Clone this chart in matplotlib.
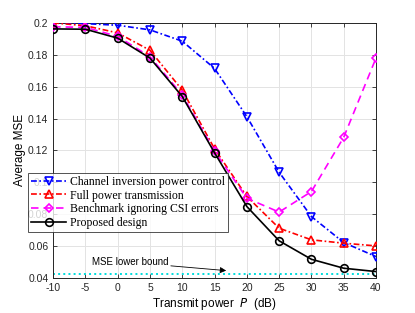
import matplotlib
matplotlib.use('Agg')
import matplotlib.pyplot as plt
from matplotlib.ticker import FixedLocator

power_db = [-10, -5, 0, 5, 10, 15, 20, 25, 30, 35, 40]
mse_inversion = [0.2000, 0.1995, 0.1985, 0.1956, 0.1885, 0.1714, 0.1412, 0.1063, 0.0785, 0.0622, 0.0534]
mse_full = [0.2000, 0.1982, 0.1937, 0.1828, 0.1578, 0.1210, 0.0911, 0.0712, 0.0639, 0.0618, 0.0601]
mse_benchmark = [0.1975, 0.1972, 0.1915, 0.1788, 0.1548, 0.1195, 0.0900, 0.0813, 0.0942, 0.1282, 0.1779]
mse_proposed = [0.1962, 0.1960, 0.1904, 0.1779, 0.1538, 0.1185, 0.0848, 0.0633, 0.0517, 0.0461, 0.0440]
lower_bound = 0.0426

yticks = [0.04, 0.06, 0.08, 0.10, 0.12, 0.14, 0.16, 0.18, 0.20]
ytick_labels = ['0.04', '0.06', '0.08', '0.1', '0.12', '0.14', '0.16', '0.18', '0.2']

plt.rcParams['font.family'] = ['Liberation Sans', 'DejaVu Sans']

fig = plt.figure(figsize=(4.15, 3.13), dpi=100)
ax = fig.add_axes([0.128, 0.112, 0.778, 0.815])

dashdot = (3.5, 1.5, 1, 1.5)
ax.plot(power_db, mse_inversion, color='#0000ff', linestyle=(0, dashdot), linewidth=1.2,
        marker='v', markersize=6, markerfacecolor='none', markeredgewidth=1.2,
        label='Channel inversion power control', zorder=3)
ax.plot(power_db, mse_full, color='#ff0000', linestyle=(0, dashdot), linewidth=1.2,
        marker='^', markersize=6, markerfacecolor='none', markeredgewidth=1.2,
        label='Full power transmission', zorder=3)
ax.plot(power_db, mse_benchmark, color='#ff00ff', linestyle=(0, (4.5, 3)), linewidth=1.2,
        marker='D', markersize=4.5, markerfacecolor='none', markeredgewidth=1.2,
        label='Benchmark ignoring CSI errors', zorder=3)
ax.plot(power_db, mse_proposed, color='black', linestyle='-', linewidth=1.2,
        marker='o', markersize=5.5, markerfacecolor='none', markeredgewidth=1.2,
        label='Proposed design', zorder=4)
ax.axhline(lower_bound, color='#00dddd', linestyle=':', linewidth=1.4, zorder=2)

ax.annotate('MSE lower bound', xy=(16.8, 0.0446), xytext=(7.8, 0.0498),
            ha='right', va='center', fontsize=7,
            arrowprops=dict(arrowstyle='-|>', color='black', lw=0.6,
                            mutation_scale=9, shrinkA=0, shrinkB=0))

ax.set_xlim(-10, 40)
ax.set_ylim(0.04, 0.2)
ax.set_xticks(power_db)
ax.set_xticklabels([str(v) for v in power_db])
ax.yaxis.set_major_locator(FixedLocator(yticks))
ax.set_yticklabels(ytick_labels)
ax.tick_params(direction='in', labelsize=7.5, length=3, width=0.6, colors='#262626',
               top=True, right=True)
ax.grid(True, color='#e3e3e3', linewidth=0.7)
ax.set_axisbelow(True)
for s in ax.spines.values():
    s.set_color('#262626')
    s.set_linewidth(0.7)

ax.set_xlabel('Transmit power  $\\it{P}$  (dB)', fontsize=8.5, labelpad=2)
ax.set_ylabel('Average MSE', fontsize=8.5, labelpad=1)

leg = ax.legend(loc='upper left', bbox_to_anchor=(-0.078, 0.412),
                prop={'family': 'Liberation Serif', 'size': 8.5},
                frameon=True, fancybox=False, edgecolor='#262626',
                handlelength=3.0, handletextpad=0.3, borderpad=0.25,
                labelspacing=0.15, borderaxespad=0)
leg.get_frame().set_linewidth(0.7)

fig.savefig('out.png', dpi=100)
